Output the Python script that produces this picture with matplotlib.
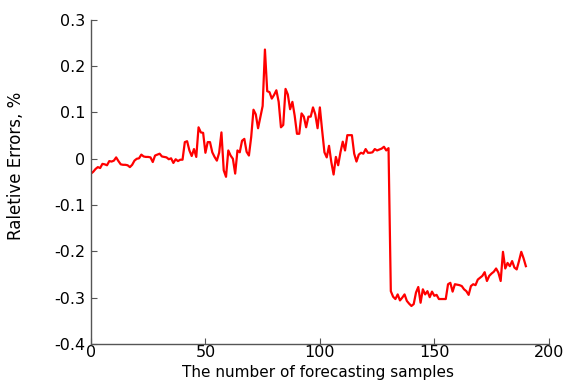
import matplotlib
matplotlib.use('Agg')
import matplotlib.pyplot as plt

plt.rcParams['font.family'] = ['DejaVu Sans']

# sample number and relative error (%)
samples = list(range(0, 191))
errors = [
    -0.032, -0.028, -0.022, -0.018, -0.020, -0.011, -0.012, -0.014, -0.005, -0.006,
    -0.004, 0.003, -0.005, -0.012, -0.013, -0.013, -0.014, -0.018, -0.013, -0.004,
    0.000, 0.001, 0.009, 0.005, 0.004, 0.004, 0.003, -0.007, 0.007, 0.009,
    0.011, 0.005, 0.004, 0.003, -0.001, 0.001, -0.009, -0.001, -0.005, -0.002,
    -0.002, 0.036, 0.038, 0.018, 0.006, 0.021, 0.004, 0.068, 0.057, 0.056,
    0.013, 0.036, 0.036, 0.014, 0.004, -0.004, 0.013, 0.057, -0.025, -0.039,
    0.018, 0.007, 0.000, -0.032, 0.018, 0.014, 0.039, 0.043, 0.015, 0.007,
    0.047, 0.106, 0.096, 0.066, 0.090, 0.114, 0.236, 0.146, 0.144, 0.130,
    0.138, 0.148, 0.123, 0.068, 0.073, 0.151, 0.139, 0.107, 0.123, 0.093,
    0.054, 0.054, 0.098, 0.091, 0.068, 0.091, 0.091, 0.111, 0.096, 0.066,
    0.111, 0.061, 0.014, 0.003, 0.028, -0.007, -0.034, 0.004, -0.014, 0.014,
    0.037, 0.018, 0.051, 0.051, 0.051, 0.011, -0.006, 0.009, 0.013, 0.011,
    0.021, 0.013, 0.013, 0.014, 0.021, 0.018, 0.020, 0.022, 0.026, 0.018,
    0.023, -0.286, -0.298, -0.303, -0.293, -0.306, -0.300, -0.293, -0.307, -0.313,
    -0.318, -0.314, -0.289, -0.277, -0.311, -0.282, -0.293, -0.286, -0.299, -0.287,
    -0.296, -0.294, -0.303, -0.303, -0.303, -0.303, -0.271, -0.268, -0.287, -0.271,
    -0.272, -0.273, -0.275, -0.282, -0.286, -0.294, -0.275, -0.271, -0.273, -0.261,
    -0.257, -0.253, -0.245, -0.264, -0.253, -0.248, -0.244, -0.237, -0.246, -0.264,
    -0.201, -0.237, -0.225, -0.232, -0.221, -0.235, -0.239, -0.221, -0.201, -0.215,
    -0.232,
]

xticks = [0, 50, 100, 150, 200]
yticks = [-0.4, -0.3, -0.2, -0.1, 0, 0.1, 0.2, 0.3]
ylabels = ['-0.4', '-0.3', '-0.2', '-0.1', '0', '0.1', '0.2', '0.3']

fig = plt.figure(figsize=(5.74, 3.83), dpi=100)
ax = fig.add_axes([0.1585, 0.102, 0.7975, 0.846])

ax.plot(samples, errors, color='#ff0000', linewidth=1.6)

ax.set_xlim(0, 200)
ax.set_ylim(-0.4, 0.3)
ax.set_xticks(xticks)
ax.set_yticks(yticks)
ax.set_yticklabels(ylabels)

for s in ['top', 'right']:
    ax.spines[s].set_visible(False)
for s in ['left', 'bottom']:
    ax.spines[s].set_color('#555555')
    ax.spines[s].set_linewidth(1.0)
ax.tick_params(direction='in', length=4, width=0.8, colors='#555555',
               labelcolor='black', labelsize=11.5)
ax.tick_params(axis='y', pad=4)
ax.tick_params(axis='x', pad=1)

ax.set_xlabel('The number of forecasting samples', fontsize=11)
ax.xaxis.set_label_coords(0.495, -0.064)
ax.set_ylabel('Raletive Errors, %', fontsize=12)
ax.yaxis.set_label_coords(-0.145, 0.55)

fig.savefig('out.png', dpi=100)
